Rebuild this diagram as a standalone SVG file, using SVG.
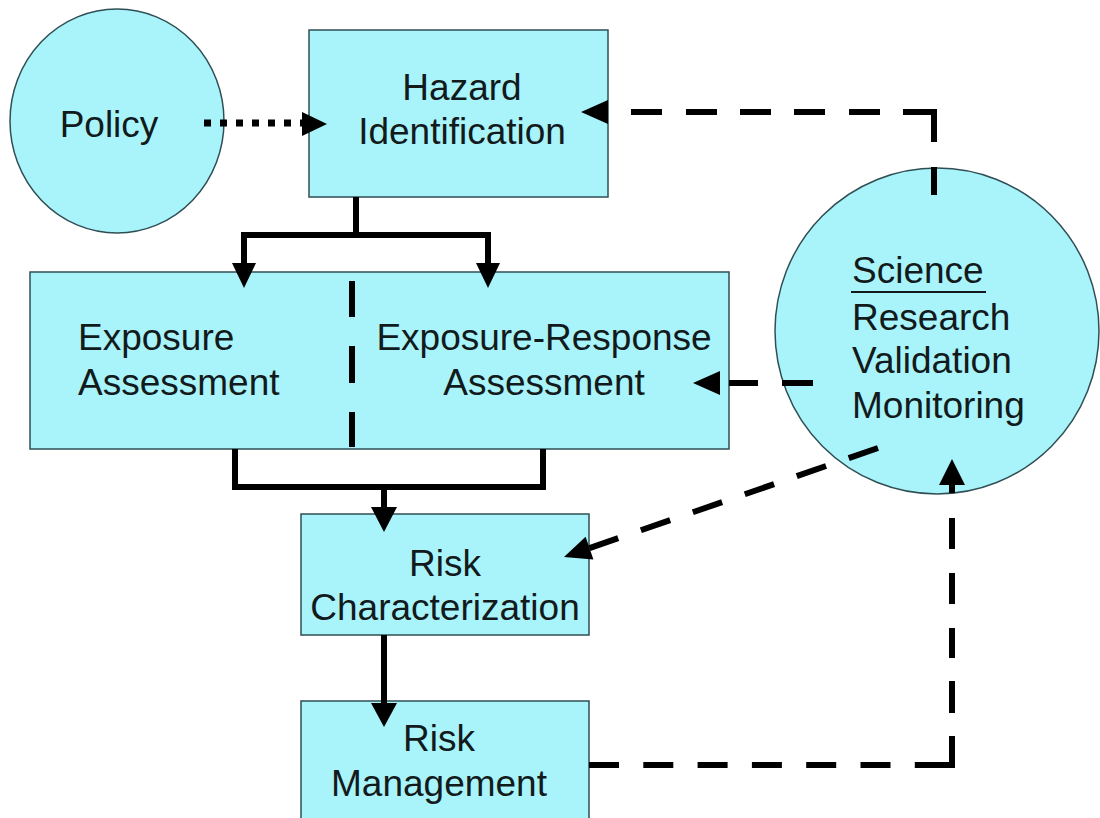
<svg xmlns="http://www.w3.org/2000/svg" width="1100" height="818" viewBox="0 0 1100 818">
<style>
.node{fill:#a9f4fa;stroke:#2f4f55;stroke-width:1.5}
.t{font-family:"Liberation Sans",Arial,sans-serif;font-size:37px;fill:#121a1c}
.c{text-anchor:middle}
.solid{fill:none;stroke:#000;stroke-width:6;stroke-linejoin:miter}
.dash{fill:none;stroke:#000;stroke-width:6}
.head{fill:#000}
</style>
<rect width="1100" height="818" fill="#fff"/>
<g id="policy">
<ellipse class="node" cx="117" cy="121" rx="107" ry="112"/>
<text class="t c" x="109" y="137">Policy</text>
</g>
<g id="hazard">
<rect class="node" x="309" y="30" width="299" height="167"/>
<text class="t c" x="462" y="100">Hazard</text>
<text class="t c" x="462" y="144">Identification</text>
</g>
<g id="assessment">
<rect class="node" x="30" y="272" width="699" height="177"/>
<text class="t" x="78" y="350">Exposure</text>
<text class="t" x="78" y="395">Assessment</text>
<text class="t c" x="544" y="350">Exposure-Response</text>
<text class="t c" x="544" y="395">Assessment</text>
<path class="dash" d="M352,281 V447" stroke-dasharray="36 29 37 29 35 20" stroke-width="7"/>
</g>
<g id="science">
<ellipse class="node" cx="937" cy="331" rx="162" ry="163"/>
<text class="t" x="852" y="283">Science</text>
<line x1="851" y1="292" x2="986" y2="292" stroke="#121a1c" stroke-width="2"/>
<text class="t" x="852" y="330">Research</text>
<text class="t" x="852" y="373">Validation</text>
<text class="t" x="852" y="418">Monitoring</text>
</g>
<g id="riskchar">
<rect class="node" x="301" y="514" width="288" height="121"/>
<text class="t c" x="445" y="576">Risk</text>
<text class="t c" x="445" y="620">Characterization</text>
</g>
<g id="riskmgmt">
<rect class="node" x="301" y="701" width="288" height="130"/>
<text class="t c" x="439" y="751">Risk</text>
<text class="t c" x="439" y="796">Management</text>
</g>
<g id="connectors">
<path d="M204,123 H303" fill="none" stroke="#000" stroke-width="7" stroke-dasharray="7 9"/>
<polygon class="head" points="327,124 302,112 302,136"/>
<path class="solid" d="M356,197 V235"/>
<path class="solid" d="M244,264 V235 H488 V264"/>
<polygon class="head" points="244,288 232,263 256,263"/>
<polygon class="head" points="488,288 476,263 500,263"/>
<path class="solid" d="M235,449 V487 H543 V449"/>
<path class="solid" d="M384,487 V508"/>
<polygon class="head" points="384,532 371,507 397,507"/>
<path class="solid" d="M384,635 V704"/>
<polygon class="head" points="384,727 371,703 397,703"/>
<path class="dash" d="M934,195 V112 H631" stroke-dasharray="28 25 61 23 31 24 31 23 31 23 31 24 31 20"/>
<polygon class="head" points="581,112 608,100 608,124"/>
<path class="dash" d="M813,383 H729" stroke-dasharray="31 24"/>
<polygon class="head" points="693,383 720,371 720,395"/>
<path class="dash" d="M878,448 L589.5,548.1" stroke-dasharray="31 24"/>
<polygon class="head" points="564,557 593.4,559.5 585.6,536.7"/>
<path class="dash" d="M589,765 H952 V517" stroke-dasharray="30 24.3 30 24.3 30 24.3 30 24.3 30 24.3 30 24.3 66.2 23 32 23 30 24 31 24 31 50"/>
<path class="dash" d="M952,493 V484"/>
<polygon class="head" points="952,459 939,485 965,485"/>
</g>
</svg>
